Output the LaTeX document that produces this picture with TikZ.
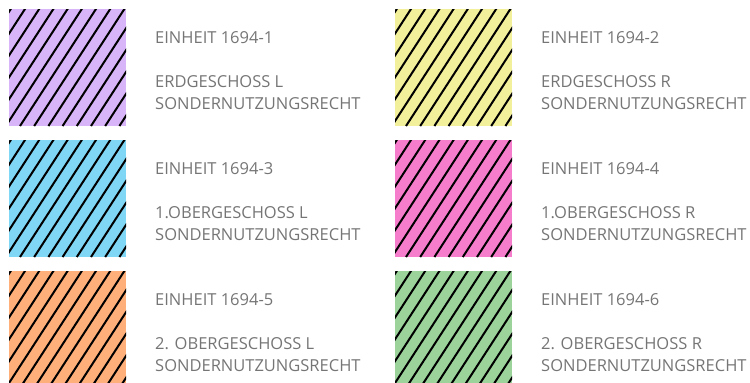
\documentclass[tikz,border=0pt]{standalone}
\usepackage{fontspec}
\setmainfont{Open Sans}
\usetikzlibrary{positioning}
\definecolor{lilac}{HTML}{D8B4F8}
\definecolor{lemon}{HTML}{F3F09B}
\definecolor{skyblue}{HTML}{80D6F5}
\definecolor{rosepink}{HTML}{F67DCC}
\definecolor{apricot}{HTML}{FFB07A}
\definecolor{mint}{HTML}{9BD39B}
\definecolor{txtgray}{HTML}{757575}

\begin{document}
\begin{tikzpicture}[
  x=1pt, y=-1pt,
  swatch/.style={
    fill=#1, inner sep=0pt, outer sep=0pt, anchor=north west,
    minimum width=117pt, minimum height=117pt,
    path picture={
      \foreach \i in {-6,...,8}
        \draw[black, line width=2pt]
          ([xshift=11pt+\i*14.2pt]path picture bounding box.south west)
          -- ++(57:145pt);
    }},
  lbl/.style={anchor=north west, inner sep=0pt, align=left,
    font=\fontsize{16.5}{22}\selectfont, text=txtgray},
]

% Canvas
\useasboundingbox (0,0) rectangle (750,383);

% === Left column ===
\node[swatch=lilac] (s1) at (9,9) {};
\node[lbl] (t1) at ([xshift=29pt, yshift=-22.5pt]s1.north east)
  {EINHEIT 1694-1\\[22pt] ERDGESCHOSS L\\ SONDERNUTZUNGSRECHT};

\node[swatch=skyblue] (s3) at (9,140) {};
\node[lbl] (t3) at ([xshift=29pt, yshift=-22.5pt]s3.north east)
  {EINHEIT 1694-3\\[22pt] 1.OBERGESCHOSS L\\ SONDERNUTZUNGSRECHT};

\node[swatch=apricot] (s5) at (9,271) {};
\node[lbl] (t5) at ([xshift=29pt, yshift=-22.5pt]s5.north east)
  {EINHEIT 1694-5\\[22pt] 2. OBERGESCHOSS L\\ SONDERNUTZUNGSRECHT};

% === Right column ===
\node[swatch=lemon] (s2) at (395,9) {};
\node[lbl] (t2) at ([xshift=29pt, yshift=-22.5pt]s2.north east)
  {EINHEIT 1694-2\\[22pt] ERDGESCHOSS R\\ SONDERNUTZUNGSRECHT};

\node[swatch=rosepink] (s4) at (395,140) {};
\node[lbl] (t4) at ([xshift=29pt, yshift=-22.5pt]s4.north east)
  {EINHEIT 1694-4\\[22pt] 1.OBERGESCHOSS R\\ SONDERNUTZUNGSRECHT};

\node[swatch=mint] (s6) at (395,271) {};
\node[lbl] (t6) at ([xshift=29pt, yshift=-22.5pt]s6.north east)
  {EINHEIT 1694-6\\[22pt] 2. OBERGESCHOSS R\\ SONDERNUTZUNGSRECHT};

\end{tikzpicture}
\end{document}
